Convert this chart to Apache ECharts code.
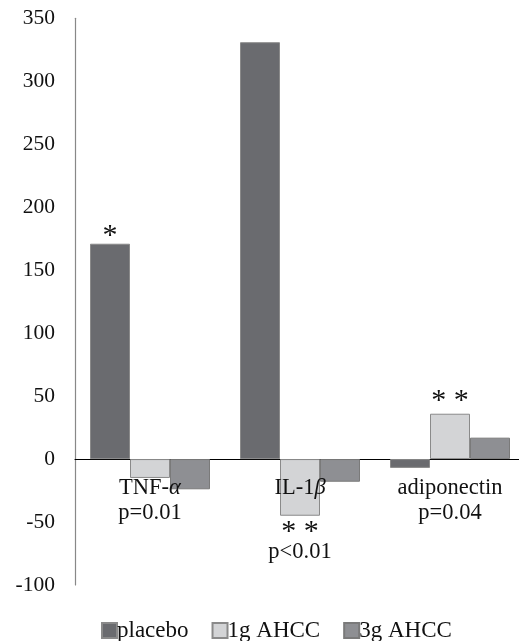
<!DOCTYPE html>
<html>
<head>
<meta charset="utf-8">
<script src="https://cdn.jsdelivr.net/npm/echarts@6/dist/echarts.min.js"></script>
<style>html,body{margin:0;padding:0;background:#fff}#c{width:519px;height:641px}</style>
</head>
<body>
<div id="c"></div>
<script>
const categories = ['TNF-α', 'IL-1β', 'adiponectin'];
const categoryLabels = ['TNF-{i|α}\np=0.01', 'IL-1{i|β}', 'adiponectin\np=0.04'];
const seriesNames = ['placebo', '1g AHCC', '3g AHCC'];
const placebo = [171, 331, -7];
const ahcc1g = [-15, -45, 36];
const ahcc3g = [-24, -18, 17];
const baseline = [0, 0, 0];
const yTicks = { min: -100, max: 350, interval: 50 };

const FONT = '"Liberation Serif", "DejaVu Serif", serif';
const TXT = '#111';
const colors = ['#6a6b6f', '#d3d4d6', '#8e8f93'];

const chart = echarts.init(document.getElementById('c'), null, { renderer: 'canvas' });

function itemsWithLabels(values, labels) {
  return values.map((v, i) => labels[i] ? { value: v, label: labels[i] } : v);
}

const starTop = (txt, dist) => ({
  show: true, position: 'top', distance: dist, formatter: txt,
  fontFamily: FONT, fontSize: 30, lineHeight: 16, color: TXT
});

const option = {
  animation: false,
  backgroundColor: '#fff',
  grid: { left: 75, top: 18.3, width: 450, height: 566.7, outerBoundsMode: 'none', containLabel: false },
  legend: {
    left: 96, top: 614,
    itemWidth: 15, itemHeight: 15, itemGap: 23,
    icon: 'rect',
    textStyle: { fontFamily: FONT, fontSize: 23, color: TXT, padding: [0, 0, 0, -5] },
    data: seriesNames
  },
  xAxis: {
    type: 'category',
    data: categories,
    axisLine: { onZero: true, lineStyle: { color: '#000', width: 1 } },
    axisTick: { show: false },
    axisLabel: { show: false }
  },
  yAxis: {
    type: 'value',
    min: yTicks.min, max: yTicks.max, interval: yTicks.interval,
    axisLine: { show: true, lineStyle: { color: '#888', width: 1.2 } },
    axisTick: { show: false },
    splitLine: { show: false },
    axisLabel: { margin: 20, fontFamily: FONT, fontSize: 21.5, color: TXT }
  },
  series: [
    {
      name: seriesNames[0], type: 'bar', data: itemsWithLabels(placebo, [starTop('*', 0), null, null]),
      barGap: '0%', barCategoryGap: '20%',
      itemStyle: { color: colors[0], borderColor: '#8a8a8a', borderWidth: 1 }
    },
    {
      name: seriesNames[1], type: 'bar',
      data: itemsWithLabels(ahcc1g, [null, {
        show: true, position: 'bottom', distance: 8.5,
        formatter: '{a|* *}\n{p|p<0.01}',
        fontFamily: FONT, color: TXT,
        rich: {
          a: { fontFamily: FONT, fontSize: 30, lineHeight: 15, color: TXT },
          p: { fontFamily: FONT, fontSize: 22.5, lineHeight: 25, color: TXT }
        }
      }, starTop('* *', 4.5)]),
      barGap: '0%', barCategoryGap: '20%',
      itemStyle: { color: colors[1], borderColor: '#8a8a8a', borderWidth: 1 }
    },
    {
      name: seriesNames[2], type: 'bar', data: ahcc3g,
      barGap: '0%', barCategoryGap: '20%',
      itemStyle: { color: colors[2], borderColor: '#7a7a7a', borderWidth: 1 }
    },
    {
      name: 'categoryLabels', type: 'scatter', z: 10,
      symbolSize: 0, silent: true,
      itemStyle: { opacity: 1 },
      data: baseline.map((v, i) => ({
        value: [i, v],
        label: { formatter: categoryLabels[i] }
      })),
      label: {
        show: true, position: 'bottom', distance: 17,
        fontFamily: FONT, fontSize: 22.5, color: TXT, lineHeight: 25, align: 'center', opacity: 1,
        rich: { i: { fontStyle: 'italic', fontFamily: FONT, fontSize: 22.5, color: TXT, lineHeight: 25 } }
      }
    }
  ]
};
chart.setOption(option);
</script>
</body>
</html>
